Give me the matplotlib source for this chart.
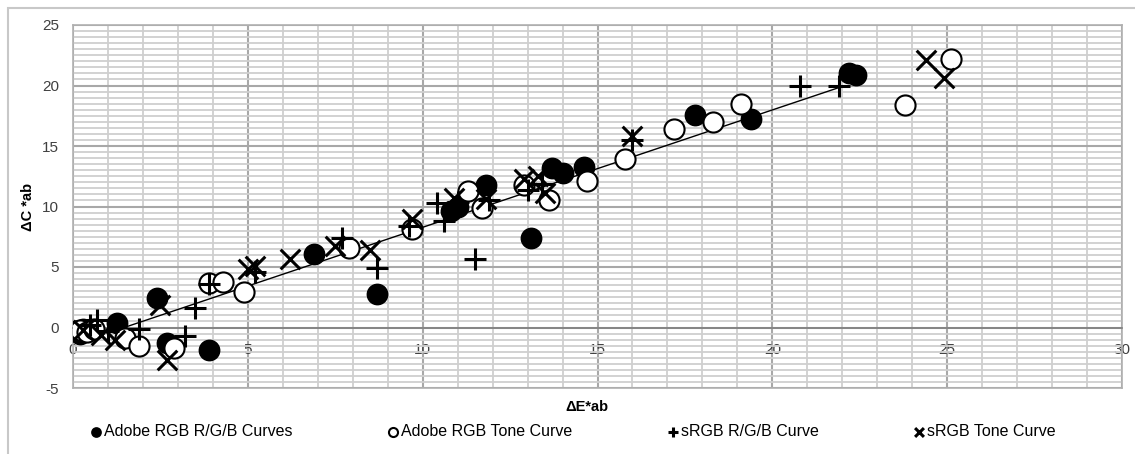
import numpy as np
import matplotlib.pyplot as plt
from matplotlib.patches import Rectangle

plt.rcParams['font.family'] = ['Liberation Sans', 'DejaVu Sans']
plt.rcParams['axes.unicode_minus'] = False

# Adobe RGB R/G/B Curves (filled dots)
adobe_rgb_x = [0.1, 0.3, 0.2, 1.25, 2.4, 2.7, 3.9, 6.9, 8.7, 10.8, 11.0, 11.8,
               13.1, 13.7, 14.0, 14.6, 17.8, 19.4, 22.2, 22.4]
adobe_rgb_y = [-0.3, -0.1, -0.5, 0.35, 2.4, -1.3, -1.9, 6.1, 2.8, 9.6, 10.0, 11.8,
               7.4, 13.2, 12.8, 13.3, 17.6, 17.2, 21.0, 20.9]

# Adobe RGB Tone Curve (open circles)
adobe_tone_x = [0.2, 0.4, 0.6, 1.5, 1.9, 2.9, 3.9, 4.3, 4.9, 7.9, 9.7, 11.3, 11.7,
                12.9, 13.6, 14.7, 15.8, 17.2, 18.3, 19.1, 23.8, 25.1]
adobe_tone_y = [-0.2, -0.4, -0.1, -0.9, -1.5, -1.7, 3.7, 3.8, 2.9, 6.6, 8.1, 11.3, 9.9,
                11.8, 10.5, 12.1, 13.9, 16.4, 17.0, 18.5, 18.4, 22.2]

# sRGB R/G/B Curve (plus)
srgb_rgb_x = [0.5, 0.7, 1.0, 1.9, 3.2, 3.5, 3.9, 5.2, 7.7, 8.7, 9.6, 10.4, 10.6,
              11.0, 11.5, 11.9, 13.0, 13.4, 16.0, 20.8, 21.9]
srgb_rgb_y = [0.2, 0.6, -0.3, -0.1, -0.7, 1.6, 3.6, 4.6, 7.4, 4.9, 8.4, 10.3, 8.8,
              10.4, 5.7, 10.5, 11.4, 11.9, 15.5, 20.0, 20.0]

# sRGB Tone Curve (x)
srgb_tone_x = [0.3, 0.8, 1.2, 2.5, 2.7, 5.0, 5.2, 6.2, 7.5, 8.5, 9.7, 10.9, 11.8,
               12.9, 13.3, 13.5, 16.0, 24.4, 24.9]
srgb_tone_y = [-0.2, -0.6, -1.0, 1.9, -2.7, 4.8, 5.1, 5.7, 6.7, 6.4, 9.0, 10.7, 10.6,
               12.3, 12.5, 11.1, 15.8, 22.1, 20.6]

# trend line
trend_slope = 0.97
trend_intercept = -1.42
trend_x = [1.2, 21.9]

fig = plt.figure(figsize=(11.35, 4.54), dpi=100)
fig.patches.append(Rectangle((8 / 1135, -0.1), 1.2, 1 - 8 / 454 + 0.1, transform=fig.transFigure,
                             fill=False, edgecolor='#c8c8c8', linewidth=1.5))
ax = fig.add_axes([73 / 1135, 1 - 388 / 454, (1122 - 73) / 1135, (388 - 25) / 454])

ax.set_xlim(0, 30)
ax.set_ylim(-5, 25)
ax.set_xticks(np.arange(0, 31, 5))
ax.set_yticks(np.arange(-5, 26, 5))
ax.set_xticks(np.arange(0, 31, 1), minor=True)
ax.set_yticks(np.arange(-5, 25.1, 0.5), minor=True)
ax.grid(which='minor', color='#cfcfcf', linewidth=1.3)
ax.grid(which='major', color='#a8a8a8', linewidth=1.5)
ax.set_axisbelow(True)

for s in ['top', 'right', 'left']:
    ax.spines[s].set_color('#b0b0b0')
    ax.spines[s].set_linewidth(1.2)
ax.spines['bottom'].set_position(('data', 0))
ax.spines['bottom'].set_color('#808080')
ax.spines['bottom'].set_linewidth(1.2)
ax.plot([0, 30], [-5, -5], color='#b0b0b0', lw=1.2, clip_on=False, zorder=1)
ax.tick_params(which='both', length=0)
ax.tick_params(axis='x', pad=11, labelsize=11, labelcolor='#404040')
ax.tick_params(axis='y', pad=10, labelsize=11, labelcolor='#404040')

ax.set_ylabel('ΔC *ab', fontsize=10.5, fontweight='bold', labelpad=5)
ax.text((587 - 73) / 1049, -0.052, 'ΔE*ab', transform=ax.transAxes, ha='center', va='center',
        fontsize=10.5, fontweight='bold')

tx = np.array(trend_x)
ax.plot(tx, trend_slope * tx + trend_intercept, color='black', lw=1, zorder=2)

ax.scatter(adobe_rgb_x, adobe_rgb_y, s=210, c='black', edgecolors='black', lw=1.2,
           label='Adobe RGB R/G/B Curves', zorder=3)
ax.scatter(adobe_tone_x, adobe_tone_y, s=210, c='white', edgecolors='black', lw=1.5,
           label='Adobe RGB Tone Curve', zorder=3)
ax.scatter(srgb_rgb_x, srgb_rgb_y, s=230, marker='+', c='black', lw=2.2,
           label='sRGB R/G/B Curve', zorder=4)
ax.scatter(srgb_tone_x, srgb_tone_y, s=200, marker='x', c='black', lw=2.2,
           label='sRGB Tone Curve', zorder=4)

fig.legend(loc='center left', bbox_to_anchor=(88 / 1135, 1 - 432 / 454), ncol=4, frameon=False,
           fontsize=11.5, markerscale=0.45, handletextpad=0.0, columnspacing=5.8,
           handlelength=1.0, borderpad=0, borderaxespad=0)

fig.savefig('out.png', dpi=100)
